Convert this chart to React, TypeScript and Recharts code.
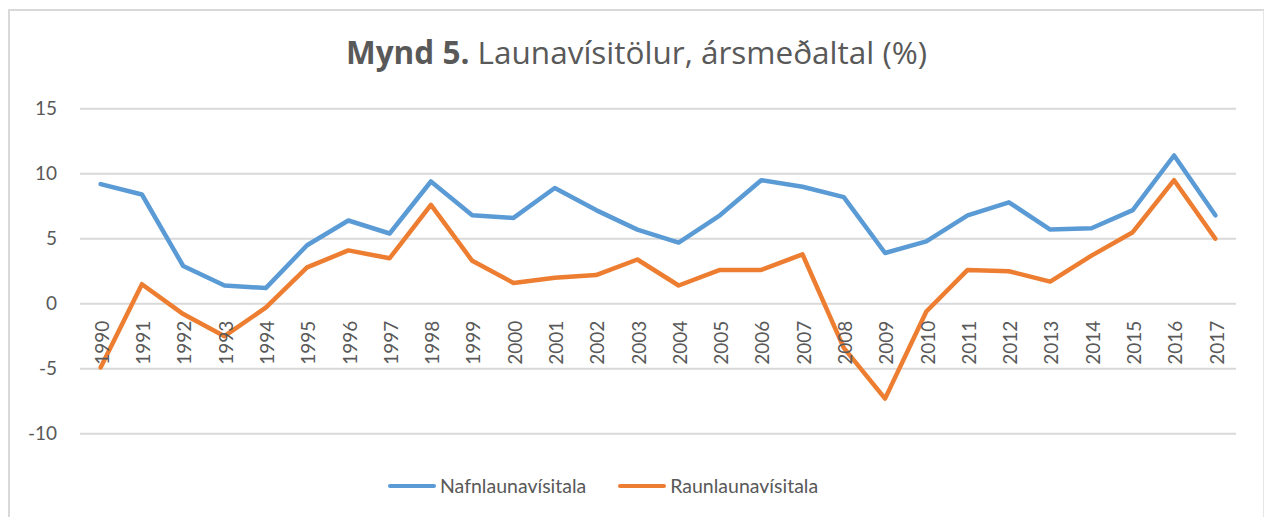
import React from 'react';
import { LineChart, Line, XAxis, YAxis, CartesianGrid } from 'recharts';

const years = [
  '1990', '1991', '1992', '1993', '1994', '1995', '1996', '1997', '1998', '1999',
  '2000', '2001', '2002', '2003', '2004', '2005', '2006', '2007', '2008', '2009',
  '2010', '2011', '2012', '2013', '2014', '2015', '2016', '2017',
];

const nafnlaun = [
  9.2, 8.4, 2.9, 1.4, 1.2, 4.5, 6.4, 5.4, 9.4, 6.8,
  6.6, 8.9, 7.2, 5.7, 4.7, 6.8, 9.5, 9.0, 8.2, 3.9,
  4.8, 6.8, 7.8, 5.7, 5.8, 7.2, 11.4, 6.8,
];

const raunlaun = [
  -4.9, 1.5, -0.8, -2.5, -0.3, 2.8, 4.1, 3.5, 7.6, 3.3,
  1.6, 2.0, 2.2, 3.4, 1.4, 2.6, 2.6, 3.8, -3.4, -7.3,
  -0.6, 2.6, 2.5, 1.7, 3.7, 5.5, 9.5, 5.0,
];

const yTicks = [-10, -5, 0, 5, 10, 15];

const series = [
  { key: 'nafn', name: 'Nafnlaunavísitala', color: '#5B9BD5' },
  { key: 'raun', name: 'Raunlaunavísitala', color: '#ED7D31' },
];

const data = years.map((ar, i) => ({ ar, nafn: nafnlaun[i], raun: raunlaun[i] }));

const FONT = 'Lato, "Open Sans", sans-serif';
const TEXT = '#595959';

const W = 1253;
const H = 506;
const LEFT = 70;
const RIGHT = 27;
const TOP = 97.7;
const PLOT_H = 325;
const X_AXIS_H = 30;
const BOTTOM = H - TOP - PLOT_H - X_AXIS_H;
const Y_MIN = -10;
const Y_MAX = 15;
// half a category on each side so points sit in the middle of their slot
const HALF_BAND = (W - LEFT - RIGHT) / years.length / 2;
// the year labels sit just under the zero line, like in Excel
const ZERO_UP = (PLOT_H * (0 - Y_MIN)) / (Y_MAX - Y_MIN);

const YearTick = ({ x, y, payload }: any) => {
  const ty = y - ZERO_UP + 17;
  return (
    <text
      x={x + 1.5}
      y={ty}
      dy="0.35em"
      transform={`rotate(-90, ${x + 1.5}, ${ty})`}
      textAnchor="end"
      fill={TEXT}
      fontSize={19}
      fontFamily={FONT}
    >
      {payload.value}
    </text>
  );
};

export default function App() {
  return (
    <div
      style={{
        position: 'absolute',
        left: 8,
        top: 9,
        width: 1256,
        height: 520,
        boxSizing: 'border-box',
        borderTop: '2px solid #d9d9d9',
        borderLeft: '2px solid #d9d9d9',
        borderRight: '1px solid #e6e6e6',
        background: '#fff',
      }}
    >
      <div
        style={{
          position: 'absolute',
          left: 0,
          top: 20,
          width: W,
          textAlign: 'center',
          fontFamily: '"Open Sans", sans-serif',
          fontSize: 31.5,
          lineHeight: '42px',
          color: TEXT,
        }}
      >
        <b>Mynd 5.</b> Launavísitölur, ársmeðaltal (%)
      </div>
      <LineChart
        width={W}
        height={H}
        data={data}
        margin={{ top: TOP, right: RIGHT, left: 0, bottom: BOTTOM }}
      >
        <CartesianGrid vertical={false} stroke="#d9d9d9" strokeWidth={2} />
        <XAxis
          dataKey="ar"
          height={X_AXIS_H}
          axisLine={false}
          tickLine={false}
          tickSize={0}
          tickMargin={0}
          interval={0}
          padding={{ left: HALF_BAND, right: HALF_BAND }}
          tick={<YearTick />}
        />
        <YAxis
          width={LEFT}
          domain={[Y_MIN, Y_MAX]}
          ticks={yTicks}
          axisLine={false}
          tickLine={false}
          tickSize={6}
          tickMargin={17}
          tick={{ fill: TEXT, fontSize: 19, fontFamily: FONT }}
        />
        {series.map((s) => (
          <Line
            key={s.key}
            type="linear"
            dataKey={s.key}
            name={s.name}
            stroke={s.color}
            strokeWidth={4.5}
            strokeLinejoin="round"
            strokeLinecap="round"
            dot={false}
            activeDot={false}
            isAnimationActive={false}
          />
        ))}
      </LineChart>
      <div
        style={{
          position: 'absolute',
          left: 378,
          top: 463,
          display: 'flex',
          alignItems: 'center',
          fontFamily: FONT,
          fontSize: 19.5,
          color: TEXT,
        }}
      >
        {series.map((s, i) => (
          <div key={s.key} style={{ display: 'flex', alignItems: 'center', marginRight: i === 0 ? 32 : 0 }}>
            <span
              style={{
                display: 'inline-block',
                width: 48,
                height: 4,
                borderRadius: 2,
                background: s.color,
                marginRight: 4,
              }}
            />
            <span>{s.name}</span>
          </div>
        ))}
      </div>
    </div>
  );
}
